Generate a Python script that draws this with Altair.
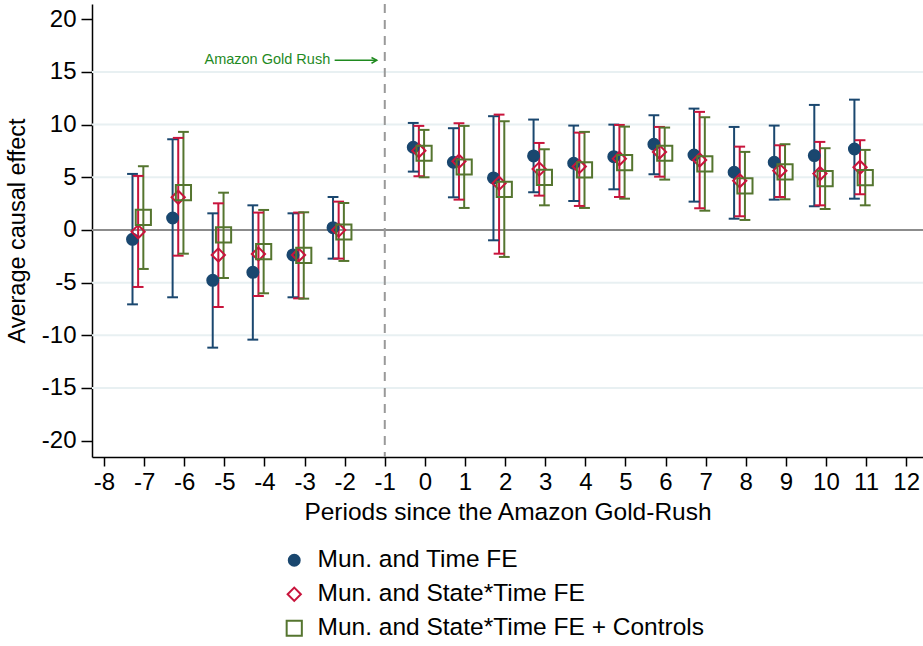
import altair as alt
import pandas as pd

# Event-study estimates by period relative to the gold rush
periods = [-7, -6, -5, -4, -3, -2, 0, 1, 2, 3, 4, 5, 6, 7, 8, 9, 10, 11]

series_names = [
    "Mun. and Time FE",
    "Mun. and State*Time FE",
    "Mun. and State*Time FE + Controls",
]

# Mun. and Time FE
est_a = [-0.89, 1.14, -4.78, -4.02, -2.37, 0.22, 7.85, 6.43, 4.94, 7.03, 6.33, 6.96, 8.14, 7.12, 5.48, 6.43, 7.06, 7.69]
lo_a = [-7.06, -6.39, -11.17, -10.41, -6.39, -2.72, 5.54, 3.10, -0.98, 3.58, 2.75, 3.86, 5.29, 2.69, 1.07, 2.88, 2.25, 2.97]
hi_a = [5.32, 8.61, 1.58, 2.34, 1.58, 3.13, 10.16, 9.66, 10.80, 10.48, 9.91, 10.00, 10.89, 11.52, 9.78, 9.91, 11.87, 12.37]

# Mun. and State*Time FE
est_b = [-0.16, 3.10, -2.37, -2.28, -2.37, 0.00, 7.53, 6.52, 4.43, 5.79, 6.02, 6.77, 7.41, 6.65, 4.68, 5.63, 5.35, 5.95]
lo_b = [-5.41, -2.44, -7.31, -6.27, -6.49, -2.72, 5.10, 2.88, -2.25, 3.26, 2.28, 3.13, 5.06, 2.06, 1.30, 3.13, 2.34, 3.39]
hi_b = [5.13, 8.74, 2.53, 1.65, 1.65, 2.69, 9.88, 10.13, 10.95, 8.26, 9.24, 9.97, 9.78, 11.21, 7.91, 8.04, 8.36, 8.52]

# Mun. and State*Time FE + Controls
est_c = [1.20, 3.54, -0.47, -2.06, -2.41, -0.19, 7.28, 5.98, 3.86, 5.00, 5.70, 6.39, 7.28, 6.27, 4.18, 5.51, 4.87, 4.97]
lo_c = [-3.70, -2.25, -4.56, -6.01, -6.52, -2.94, 5.00, 2.09, -2.56, 2.34, 2.09, 2.97, 4.78, 1.83, 0.95, 2.91, 1.99, 2.34]
hi_c = [6.05, 9.31, 3.54, 1.90, 1.68, 2.56, 9.50, 9.88, 10.32, 7.66, 9.31, 9.81, 9.72, 10.70, 7.41, 8.14, 7.76, 7.60]

# Horizontal dodge of each specification around the period
offsets = [-0.29, -0.15, -0.02]

colors = ["#1a476f", "#c8143c", "#55752f"]
fills = ["#1a476f", "transparent", "transparent"]
shapes = ["circle", "diamond", "square"]
sizes = [120, 230, 135]

grid_values = [-15, -10, -5, 5, 10, 15]
y_ticks = [-20, -15, -10, -5, 0, 5, 10, 15, 20]
x_ticks = list(range(-8, 13))

# Half-width of the confidence-interval caps, in periods
CAP_HALF = 0.135

rows = []
for name, off, est, lo, hi in zip(
    series_names, offsets, [est_a, est_b, est_c], [lo_a, lo_b, lo_c], [hi_a, hi_b, hi_c]
):
    for p, e, l, h in zip(periods, est, lo, hi):
        rows.append({"series": name, "period": p, "xpos": p + off, "est": e, "lo": l, "hi": h})
df = pd.DataFrame(rows)

X_DOM = [-8.3, 12.42]
Y_DOM = [-21.55, 21.45]
FONT = "Liberation Sans"
HYPHEN_LABEL = "replace(datum.label, '\u2212', '-')"

x_scale = alt.Scale(domain=X_DOM, nice=False, zero=False)
y_scale = alt.Scale(domain=Y_DOM, nice=False, zero=False)
series_scale = dict(domain=series_names)

legend = alt.Legend(
    title=None,
    orient="none",
    legendX=190,
    legendY=544,
    direction="vertical",
    padding=0,
    labelFont=FONT,
    labelFontSize=24.5,
    labelColor="#000000",
    labelLimit=600,
    symbolStrokeWidth=2,
    symbolOpacity=1,
    rowPadding=9,
    labelOffset=11,
)

stroke_enc = alt.Stroke("series:N", scale=alt.Scale(range=colors, **series_scale), legend=legend)

base = alt.Chart(df).transform_calculate(
    cap_l=f"datum.xpos - {CAP_HALF}", cap_r=f"datum.xpos + {CAP_HALF}"
)

# Light horizontal gridlines
grid = alt.Chart(pd.DataFrame({"g": grid_values})).mark_rule(
    color="#e8f0f2", strokeWidth=2
).encode(y=alt.Y("g:Q", scale=y_scale))

# Zero reference line
zero = alt.Chart(pd.DataFrame({"z": [0]})).mark_rule(
    color="#8c8c8c", strokeWidth=2
).encode(y=alt.Y("z:Q", scale=y_scale))

# Dashed line at the onset period
onset = alt.Chart(pd.DataFrame({"v": [-1]})).mark_rule(
    color="#999999", strokeWidth=2, strokeDash=[9, 7]
).encode(x=alt.X("v:Q", scale=x_scale))

ci = base.mark_rule(strokeWidth=2).encode(
    x=alt.X("xpos:Q", scale=x_scale),
    y=alt.Y("lo:Q", scale=y_scale),
    y2="hi:Q",
    stroke=stroke_enc,
)
cap_lo = base.mark_rule(strokeWidth=2).encode(
    x=alt.X("cap_l:Q", scale=x_scale),
    x2="cap_r:Q",
    y=alt.Y("lo:Q", scale=y_scale),
    stroke=stroke_enc,
)
cap_hi = base.mark_rule(strokeWidth=2).encode(
    x=alt.X("cap_l:Q", scale=x_scale),
    x2="cap_r:Q",
    y=alt.Y("hi:Q", scale=y_scale),
    stroke=stroke_enc,
)

points = base.mark_point(filled=False, strokeWidth=2, opacity=1).encode(
    x=alt.X(
        "xpos:Q",
        scale=x_scale,
        axis=alt.Axis(
            values=x_ticks,
            title="Periods since the Amazon Gold-Rush",
            labelExpr=HYPHEN_LABEL,
            grid=False,
        ),
    ),
    y=alt.Y(
        "est:Q",
        scale=y_scale,
        axis=alt.Axis(
            values=y_ticks,
            title="Average causal effect",
            labelExpr=HYPHEN_LABEL,
            grid=False,
        ),
    ),
    stroke=stroke_enc,
    fill=alt.Fill("series:N", scale=alt.Scale(range=fills, **series_scale), legend=legend),
    shape=alt.Shape("series:N", scale=alt.Scale(range=shapes, **series_scale), legend=legend),
    size=alt.Size("series:N", scale=alt.Scale(range=sizes, **series_scale), legend=legend),
)

# Annotation with an arrow pointing at the onset line
note_df = pd.DataFrame({"x": [-2.36], "y": [16.1], "label": ["Amazon Gold Rush"]})
note = alt.Chart(note_df).mark_text(
    align="right", baseline="middle", font=FONT, fontSize=14.5, color="#1f8a1f"
).encode(x=alt.X("x:Q", scale=x_scale), y=alt.Y("y:Q", scale=y_scale), text="label:N")

arrow_df = pd.DataFrame({"x": [-2.25], "x2": [-1.2], "y": [16.1]})
arrow_line = alt.Chart(arrow_df).mark_rule(color="#1f8a1f", strokeWidth=1.5).encode(
    x=alt.X("x:Q", scale=x_scale), x2="x2:Q", y=alt.Y("y:Q", scale=y_scale)
)
arrow_head = alt.Chart(arrow_df).mark_point(
    shape="M -1 -0.55 L 0 0 L -1 0.55",
    filled=False,
    color="#1f8a1f",
    strokeWidth=1.5,
    size=110,
    opacity=1,
).encode(x=alt.X("x2:Q", scale=x_scale), y=alt.Y("y:Q", scale=y_scale))

chart = (
    alt.layer(grid, zero, onset, ci, cap_lo, cap_hi, points, note, arrow_line, arrow_head)
    .properties(
        width=831,
        height=453,
        autosize=alt.AutoSizeParams(type="none"),
        padding={"left": 92, "top": 4, "right": 0, "bottom": 189},
        background="white",
    )
    .configure_view(stroke=None)
    .configure_axis(
        labelFont=FONT,
        titleFont=FONT,
        labelFontSize=24,
        titleFontWeight="normal",
        labelColor="#000000",
        titleColor="#000000",
        domainColor="#000000",
        tickColor="#000000",
        domainWidth=1.5,
        tickWidth=1.5,
        labelFlush=False,
        labelOverlap=False,
    )
    .configure_axisY(labelAngle=0, tickSize=11, labelPadding=5, titlePadding=12, titleFontSize=23.5)
    .configure_axisX(tickSize=9, labelPadding=4, titlePadding=6, titleFontSize=24.5)
)

chart.save("out.html", embed_options={"renderer": "svg", "actions": False})
